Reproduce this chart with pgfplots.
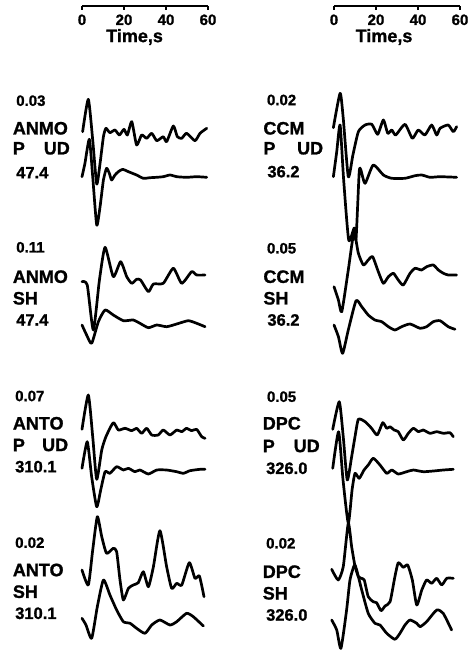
\documentclass[border=0pt]{standalone}
\usepackage{pgfplots}
\pgfplotsset{compat=1.18}
\usepackage{fontspec}
\setmainfont{Liberation Sans}[BoldFeatures={FakeBold=1.2}]
\newcommand{\fA}{\fontsize{15}{17}\selectfont\bfseries}
\newcommand{\fT}{\fontsize{15}{17}\selectfont\bfseries}
\newcommand{\fN}{\fontsize{18}{20}\selectfont\bfseries}
\newcommand{\fD}{\fontsize{16.5}{18}\selectfont\bfseries}
\tikzset{
 lab/.style={anchor=west, inner sep=0pt},
 labe/.style={anchor=east, inner sep=0pt},
}
\pgfplotsset{
 trace/.style={black, line width=2.7pt, smooth, tension=0.35, line join=round, line cap=round},
 main/.style={scale only axis, width=126pt, height=652pt, xmin=0, xmax=60, ymin=0, ymax=652, y dir=reverse, hide axis, clip=false},
 taxis/.style={scale only axis, width=126pt, height=2pt, xmin=0, xmax=60, ymin=0, ymax=1,
   axis x line=bottom, axis y line=none, axis line style={-, line width=1.6pt},
   xtick={0,20,40,60}, xticklabels={0,20,40,60}, tick align=outside, major tick length=4pt,
   every tick/.style={black, line width=1.4pt},
   xticklabel style={font=\fT, yshift=-1pt}, clip=false},
}
\begin{document}
\begin{tikzpicture}
\path[use as bounding box] (0,0) rectangle (475pt,652pt);
% ---------------- time scales
\begin{axis}[taxis, at={(82pt,646pt)}, anchor=south west]
\node[font=\fN, yshift=-31pt] at (axis description cs:0.417,0) {Time,s};
\end{axis}
\begin{axis}[taxis, at={(334pt,646pt)}, anchor=south west]
\node[font=\fN, yshift=-31pt] at (axis description cs:0.397,0) {Time,s};
\end{axis}
% ---------------- left column
\begin{axis}[main, at={(82pt,0pt)}, anchor=south west]
% ANMO P UD
\addplot[trace] coordinates {(0.3,131.7)(3.0,99.3)(5.1,140)(7.0,184)(8.6,163.3)(10.2,136.7)(11.4,128.3)(13.3,132.7)(15.7,130)(17.8,135)(20.0,129.3)(21.6,135)(23.7,121.7)(26.0,145)(28.4,135)(30.8,138.3)(33.2,133.3)(35.6,140.7)(38.7,136.7)(40.3,141.7)(43.5,126)(45.4,136.7)(47.5,138.3)(49.8,133.3)(53.8,140.7)(56.2,133.3)(59.4,128.3)};
\addplot[trace] coordinates {(0,176.7)(1.4,163.3)(3.5,139.3)(5.1,176.7)(7.0,225)(8.6,206.7)(10.2,180)(11.7,168.3)(13.0,173.3)(14.1,180)(15.7,175)(17.3,171.7)(19.4,169.3)(22.1,171.7)(26.0,175)(29.2,178.3)(32.4,177.7)(35.6,177.3)(38.7,176.7)(41.9,175)(45.1,176.7)(49.8,177.3)(54.6,176.7)(59.4,177.3)};
% ANMO SH
\addplot[trace] coordinates {(0,281.7)(2.5,285)(5.4,330)(8.3,280)(11.0,247.3)(14.9,276.7)(18.4,261.7)(21.3,276.7)(23.7,283.3)(26.0,279.3)(27.9,280)(31.6,291.7)(34.0,284)(38.7,283.3)(43.5,268.3)(47.5,283.3)(52.2,271.7)(54.6,275)(58.6,275)};
\addplot[trace] coordinates {(0,325)(2.2,335)(4.6,343.3)(7.8,321.7)(11.0,310)(14.9,315)(19.7,320.7)(24.4,320)(27.6,323.3)(31.6,327.7)(35.6,325)(40.3,326.7)(45.1,324)(50.6,320.7)(54.6,323.3)(58.6,326.7)};
% ANTO P UD
\addplot[trace] coordinates {(0,429.3)(3.0,395)(5.1,436.7)(7.0,479.3)(9.4,450)(11.4,436.7)(14.9,422.7)(17.3,430)(20.5,428.3)(23.7,430.7)(26.0,428.3)(28.4,433.3)(30.8,428.3)(33.2,435)(36.3,435)(38.7,430)(41.9,435)(45.1,430)(47.5,431.7)(49.8,428.3)(52.2,430.7)(54.6,429.3)(57.0,436.7)(58.6,438.3)};
\addplot[trace] coordinates {(0,468.3)(2.5,441.7)(4.6,476.7)(7.0,506.7)(8.9,490)(11.0,471.7)(13.3,473.3)(16.5,466.7)(19.7,470)(22.1,468.3)(25.2,471.7)(27.6,470)(31.6,474)(35.6,470)(40.3,470)(45.1,471.7)(48.3,473.3)(51.4,470.7)(56.2,469.3)(58.6,469.3)};
% ANTO SH
\addplot[trace] coordinates {(0,570)(3.0,585)(5.1,550)(7.3,516.7)(9.4,536.7)(11.7,553.3)(14.9,548.3)(16.5,551.7)(18.1,580)(19.7,600)(22.1,588.3)(24.4,585)(26.8,582.7)(29.2,571.7)(31.6,586.7)(34.0,566.7)(37.1,530.7)(40.3,566.7)(42.7,588.3)(45.1,583.3)(47.5,585)(51.1,562.7)(53.8,578.3)(55.9,576)(58.1,596.7)};
\addplot[trace] coordinates {(0,618.3)(1.9,625)(4.6,638.3)(7.3,606.7)(10.2,580)(13.3,595)(16.5,610)(19.7,621.7)(22.9,623.3)(26.0,628.3)(30.0,633.3)(33.2,625)(37.1,620)(41.9,625)(45.1,621.7)(49.8,613.3)(53.0,616.7)(57.8,626)};
% labels
\node[lab,font=\fA] at (axis cs:-31.4,100.7) {0.03};
\node[lab,font=\fN] at (axis cs:-33.0,128.3) {ANMO};
\node[lab,font=\fN] at (axis cs:-33.0,148.3) {P};
\node[labe,font=\fN] at (axis cs:-5.7,148.3) {UD};
\node[lab,font=\fD] at (axis cs:-31.4,172.7) {47.4};
\node[lab,font=\fA] at (axis cs:-31.4,247.3) {0.11};
\node[lab,font=\fN] at (axis cs:-33.0,276.7) {ANMO};
\node[lab,font=\fN] at (axis cs:-33.0,298.3) {SH};
\node[lab,font=\fD] at (axis cs:-31.4,320) {47.4};
\node[lab,font=\fA] at (axis cs:-31.9,396) {0.07};
\node[lab,font=\fN] at (axis cs:-33.0,423.3) {ANTO};
\node[lab,font=\fN] at (axis cs:-33.0,445) {P};
\node[labe,font=\fN] at (axis cs:-6.5,445) {UD};
\node[lab,font=\fD] at (axis cs:-31.9,466.7) {310.1};
\node[lab,font=\fA] at (axis cs:-31.9,542.7) {0.02};
\node[lab,font=\fN] at (axis cs:-33.0,570) {ANTO};
\node[lab,font=\fN] at (axis cs:-33.0,591.7) {SH};
\node[lab,font=\fD] at (axis cs:-31.9,613.3) {310.1};
\end{axis}
% ---------------- right column
\begin{axis}[main, at={(334pt,0pt)}, anchor=south west]
% CCM P UD
\addplot[trace] coordinates {(-0.3,127.7)(2.9,93.3)(4.4,118.3)(6.8,176.7)(9.0,155)(11.6,131.7)(14.8,125)(18.0,124.3)(20.8,134.3)(23.5,120)(25.6,133.3)(27.5,130)(29.4,135)(33.8,124.3)(37.3,138.3)(40.1,130)(43.3,135)(46.5,125)(48.9,135)(50.5,128.3)(54.4,125)(56.8,131.7)(58.4,126.7)};
\addplot[trace] coordinates {(-0.3,176.7)(1.3,151.7)(2.9,125)(4.6,180)(7.0,240)(9.6,228)(10.5,239)(12.0,172)(12.8,170)(14.8,183.3)(18.7,165)(23.5,175)(27.5,178.3)(33.8,178.3)(38.6,175.7)(41.8,175)(45.7,177.3)(50.5,176.7)(58.4,177.3)};
% CCM SH
\addplot[trace] coordinates {(0,286.7)(2.1,300)(3.7,311.7)(6.8,270)(9.5,232.7)(11.6,253.3)(14.0,265)(16.3,260)(18.4,256.7)(21.1,271.7)(23.5,283.3)(25.9,276.7)(28.3,273.3)(30.6,280)(33.0,285)(36.2,273.3)(38.6,268.3)(41.7,270)(44.1,266.7)(47.3,265)(49.7,270)(52.1,273.3)(54.4,275)(58.4,275)};
\addplot[trace] coordinates {(0,325)(2.1,336.7)(4.1,353.3)(6.8,330)(10.5,300.7)(13.2,306.7)(16.3,315)(19.5,320)(22.7,321.7)(25.9,326.7)(29.0,330)(32.2,326.7)(36.2,324)(41.0,328.3)(44.1,326.7)(47.3,321.7)(50.5,320.7)(54.4,326.7)(57.6,329.3)};
% DPC P UD
\addplot[trace] coordinates {(-0.6,429.3)(2.5,401.7)(4.4,436.7)(6.3,480)(8.4,456.7)(10.0,436.7)(11.6,419.3)(14.8,421.7)(17.9,428.3)(20.6,435)(23.2,422.7)(25.1,428.3)(26.7,426.7)(28.6,430)(30.6,431.7)(33.0,440)(35.4,433.3)(37.8,428.3)(40.2,431.7)(42.5,430)(45.7,433.3)(48.9,431.7)(52.1,433.3)(55.2,432.7)(56.8,436.7)};
\addplot[trace] coordinates {(-0.6,468.3)(2.2,431.7)(4.3,480)(6.8,523)(8.6,490)(10.0,473.3)(12.0,478.3)(14.3,470)(16.3,465)(18.7,458.3)(21.9,465)(25.1,473.3)(27.5,470)(30.6,474)(34.6,471.7)(37.8,470)(42.5,471.7)(47.3,471)(52.1,470)(56.8,469.3)};
% DPC SH
\addplot[trace] coordinates {(-1.1,569.3)(2.0,580)(4.4,566.7)(6.8,523.3)(8.4,546.7)(10.0,566)(11.6,576.7)(12.9,578.3)(14.4,580)(16.3,596.7)(18.7,601.7)(20.3,602.7)(22.4,610.7)(24.3,606)(26.7,601.7)(29.0,576.7)(30.6,562.7)(33.0,567.3)(35.1,565)(37.3,580)(39.4,605)(41.8,590)(44.1,580)(46.5,583.3)(48.9,578.3)(51.3,585)(53.7,578.3)(56.8,578.3)};
\addplot[trace] coordinates {(-1.1,620)(1.3,630)(3.3,648.3)(6.0,610)(7.6,580)(9.7,565)(10.8,570)(13.2,590)(16.3,613.3)(19.5,623.3)(21.9,625)(25.1,633.3)(29.0,639.3)(31.4,633.3)(33.8,625)(36.2,620)(39.4,623.3)(41.0,626.7)(44.1,621.7)(48.9,610)(52.0,613.3)(56.0,630)};
% labels
\node[lab,font=\fA] at (axis cs:-32.0,100) {0.02};
\node[lab,font=\fN] at (axis cs:-33.7,128.3) {CCM};
\node[lab,font=\fN] at (axis cs:-33.7,148.3) {P};
\node[labe,font=\fN] at (axis cs:-5.1,148.3) {UD};
\node[lab,font=\fD] at (axis cs:-31.8,171.7) {36.2};
\node[lab,font=\fA] at (axis cs:-32.0,248.3) {0.05};
\node[lab,font=\fN] at (axis cs:-33.7,276.7) {CCM};
\node[lab,font=\fN] at (axis cs:-33.7,298.3) {SH};
\node[lab,font=\fD] at (axis cs:-31.8,320) {36.2};
\node[lab,font=\fA] at (axis cs:-32.0,396.7) {0.05};
\node[lab,font=\fN] at (axis cs:-34.0,423.3) {DPC};
\node[lab,font=\fN] at (axis cs:-34.0,446) {P};
\node[labe,font=\fN] at (axis cs:-6.7,446) {UD};
\node[lab,font=\fD] at (axis cs:-32.4,468.3) {326.0};
\node[lab,font=\fA] at (axis cs:-32.4,543.3) {0.02};
\node[lab,font=\fN] at (axis cs:-34.0,571.7) {DPC};
\node[lab,font=\fN] at (axis cs:-34.0,593.3) {SH};
\node[lab,font=\fD] at (axis cs:-32.4,615) {326.0};
\end{axis}
\end{tikzpicture}
\end{document}
